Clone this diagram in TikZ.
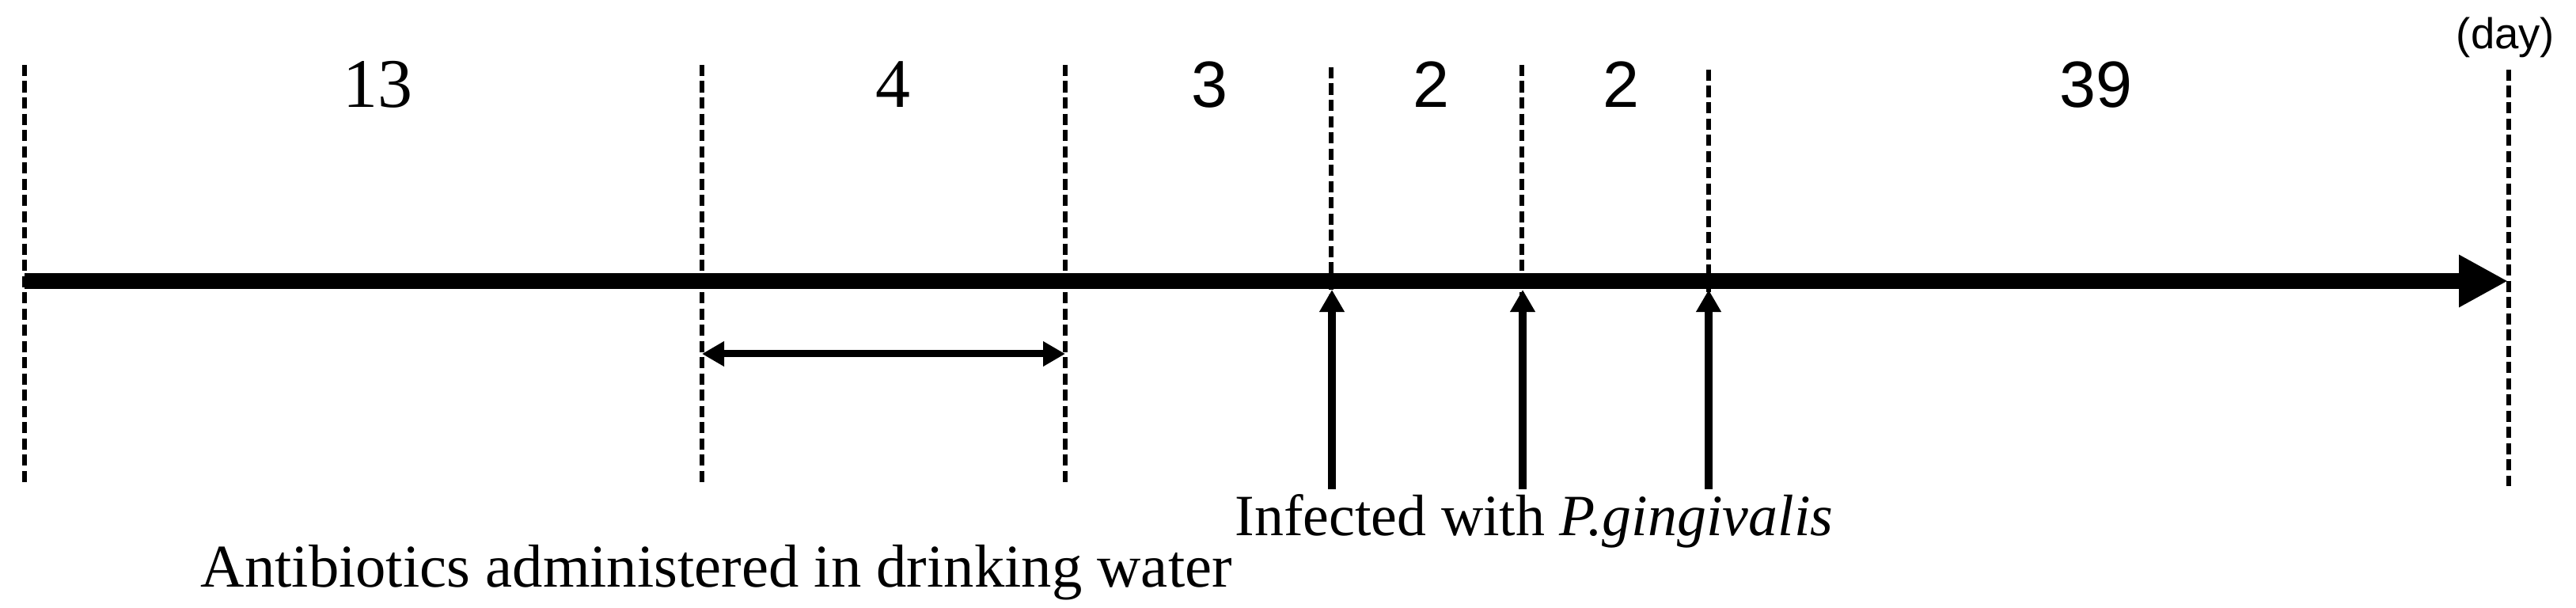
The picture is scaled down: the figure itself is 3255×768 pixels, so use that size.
\documentclass[tikz,border=0pt]{standalone}
\usepackage{fontspec}
\setmainfont{Liberation Serif}
\setsansfont{Liberation Sans}
\usetikzlibrary{arrows.meta}
\tikzset{
	tick/.style={black,line width=0.55mm,dash pattern=on 1.4mm off 0.65mm},
	timeline/.style={black,line width=2mm,-{Triangle[length=6.2mm,width=6.2mm]}},
	infect/.style={black,line width=1mm,-{Triangle[length=2.8mm,width=3mm]}},
	span/.style={black,line width=0.9mm,{Triangle[length=2.8mm,width=3mm]}-{Triangle[length=2.8mm,width=3mm]}},
	serifnum/.style={inner sep=0pt,font=\fontsize{25}{30}\selectfont},
	sansnum/.style={inner sep=0pt,font=\sffamily\fontsize{23.5}{28}\selectfont},
	caption/.style={inner sep=0pt,anchor=base west,font=\fontsize{21}{25}\selectfont}
}
\begin{document}
\begin{tikzpicture}[x=0.01cm,y=-0.01cm]
			\useasboundingbox (0,0) rectangle (3255,768);
			\coordinate (t0) at (31,82);   \coordinate (b0) at (31,614);
			\coordinate (t1) at (887,82);  \coordinate (b1) at (887,614);
			\coordinate (t2) at (1346,82); \coordinate (b2) at (1346,614);
			\coordinate (t3) at (1682,85); \coordinate (b3) at (1682,614);
			\coordinate (t4) at (1923,82); \coordinate (b4) at (1923,614);
			\coordinate (t5) at (2159,88); \coordinate (b5) at (2159,614);
			\coordinate (t6) at (3170,88); \coordinate (b6) at (3170,614);
			\draw[tick](t0)--(b0);
			\draw[tick](t1)--(b1);
			\draw[tick](t2)--(b2);
			\draw[tick](t3)--(b3);
			\draw[tick](t4)--(b4);
			\draw[tick](t5)--(b5);
			\draw[tick](t6)--(b6);
			\coordinate (start) at (31,355);
			\coordinate (end) at (3169,355);
			\draw[timeline](start)--(end);
			\node[serifnum](n1) at (477,107){13};
			\node[serifnum](n2) at (1128,107){4};
			\node[sansnum](n3) at (1528,107){3};
			\node[sansnum](n4) at (1808,107){2};
			\node[sansnum](n5) at (2048,107){2};
			\node[sansnum](n6) at (2648,107){39};
			\node[inner sep=0pt,anchor=base,font=\sffamily\fontsize{15.5}{18}\selectfont](day) at (3166,62){(day)};
			\coordinate (s1) at (887,447);
			\coordinate (s2) at (1346,447);
			\draw[span](s1)--(s2);
			\coordinate (i1) at (1683,618); \coordinate (j1) at (1683,366);
			\coordinate (i2) at (1924,618); \coordinate (j2) at (1924,366);
			\coordinate (i3) at (2159,618); \coordinate (j3) at (2159,366);
			\draw[infect](i1)--(j1);
			\draw[infect](i2)--(j2);
			\draw[infect](i3)--(j3);
			\node[caption](infected) at (1560,677){Infected with \textit{P.gingivalis}};
			\node[caption,font=\fontsize{21.8}{26}\selectfont](antibio) at (253,742){Antibiotics administered in drinking water};
		\end{tikzpicture}
\end{document}
